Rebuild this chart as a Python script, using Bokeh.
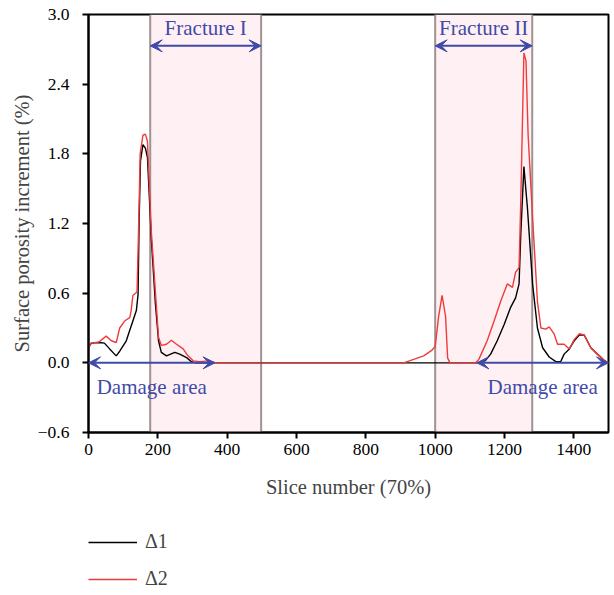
from bokeh.plotting import figure
from bokeh.layouts import column
from bokeh.models import (Range1d, FixedTicker, BoxAnnotation, Span, Arrow, VeeHead,
                          Label, Legend, LegendItem)
from bokeh.embed import file_html
from bokeh.resources import INLINE

# ---------------- data ----------------
x_d1 = [0, 8, 32, 46, 61, 80, 90, 109, 119, 128, 138, 143, 146, 150, 157, 164, 170, 181, 193, 202,
        210, 225, 249, 263, 283, 297, 310, 900, 1000, 1126, 1145, 1160, 1179, 1199, 1218, 1232, 1242,
        1247, 1256, 1266, 1281, 1295, 1310, 1329, 1348, 1362, 1372, 1387, 1401, 1416, 1430, 1449,
        1468, 1488, 1500]
y_d1 = [0.13, 0.17, 0.175, 0.17, 0.12, 0.06, 0.10, 0.19, 0.28, 0.36, 0.45, 0.59, 1.22, 1.74, 1.88,
        1.85, 1.77, 1.08, 0.51, 0.19, 0.09, 0.06, 0.09, 0.075, 0.045, 0.01, 0.0, 0.0, 0.0, 0.0, 0.02,
        0.075, 0.19, 0.33, 0.48, 0.56, 0.68, 1.11, 1.69, 1.34, 0.68, 0.30, 0.13, 0.05, 0.01, 0.01,
        0.075, 0.12, 0.19, 0.24, 0.24, 0.13, 0.075, 0.02, 0.0]

x_d2 = [0, 8, 30, 51, 66, 80, 90, 104, 119, 123, 128, 140, 145, 149, 157, 164, 170, 181, 196, 202,
        210, 225, 239, 254, 273, 287, 302, 321, 345, 369, 909, 938, 967, 991, 1000, 1010, 1020, 1030,
        1036, 1043, 1117, 1126, 1150, 1170, 1189, 1208, 1223, 1232, 1242, 1247, 1256, 1262, 1268,
        1281, 1295, 1305, 1319, 1329, 1343, 1353, 1372, 1387, 1401, 1416, 1430, 1449, 1468, 1488, 1500]
y_d2 = [0.13, 0.17, 0.18, 0.23, 0.19, 0.175, 0.30, 0.36, 0.39, 0.45, 0.58, 0.61, 1.22, 1.80, 1.96,
        1.97, 1.91, 1.14, 0.48, 0.22, 0.15, 0.16, 0.195, 0.16, 0.12, 0.06, 0.017, 0.01, 0.017, 0.0,
        0.0, 0.03, 0.06, 0.11, 0.14, 0.40, 0.58, 0.40, 0.04, 0.0, 0.0, 0.03, 0.19, 0.36, 0.53, 0.68,
        0.65, 0.78, 0.82, 1.40, 2.67, 2.60, 1.97, 1.25, 0.53, 0.30, 0.29, 0.31, 0.25, 0.16, 0.16,
        0.12, 0.20, 0.25, 0.24, 0.13, 0.075, 0.02, 0.0]

series_names = ["Δ1", "Δ2"]
series_colors = ["black", "#ee3b3b"]
fracture_starts = [178, 1000]
fracture_ends = [498, 1280]
fracture_labels = ["Fracture I", "Fracture II"]
fracture_arrow_y = 2.73
fracture_label_y = 2.88
damage_starts = [0, 1120]
damage_ends = [365, 1500]
damage_label = "Damage area"
damage_label_y = -0.21
x_ticks = [0, 200, 400, 600, 800, 1000, 1200, 1400]
y_ticks = [-0.6, 0.0, 0.6, 1.2, 1.8, 2.4, 3.0]
y_tick_labels = ["\u22120.6", "0.0", "0.6", "1.2", "1.8", "2.4", "3.0"]
x_label = "Slice number (70%)"
y_label = "Surface porosity increment (%)"

# ---------------- styling ----------------
FONT = "Liberation Serif"
BLUE = "#3f4aa8"
PINK = "#fff0f3"
GREY = "#9e9292"
MAIN_H = 505

# ---------------- main plot ----------------
p = figure(width=614, height=MAIN_H, output_backend="svg", toolbar_location=None,
           x_range=Range1d(0, 1500), y_range=Range1d(-0.6, 3.0),
           min_border_left=88, min_border_right=6, min_border_top=14,
           min_border_bottom=MAIN_H - 432)
p.grid.visible = False
p.outline_line_color = "black"
p.outline_line_width = 2
p.background_fill_color = "white"
p.border_fill_color = "white"

for ax in (p.xaxis[0], p.yaxis[0]):
    ax.axis_line_width = 2
    ax.major_tick_line_width = 2
    ax.major_tick_out = 6
    ax.major_tick_in = 0
    ax.minor_tick_line_color = None
    ax.major_label_text_font = FONT
    ax.major_label_text_font_size = "17.5px"
    ax.major_label_text_color = "black"
    ax.axis_label_text_font = FONT
    ax.axis_label_text_font_style = "normal"
    ax.axis_label_text_font_size = "20.5px"

p.xaxis[0].ticker = FixedTicker(ticks=x_ticks)
p.xaxis[0].major_label_standoff = 5
p.xaxis[0].axis_label = x_label
p.xaxis[0].axis_label_standoff = 18
p.yaxis[0].ticker = FixedTicker(ticks=y_ticks)
p.yaxis[0].major_label_overrides = {t: l for t, l in zip(y_ticks, y_tick_labels)}
p.yaxis[0].major_label_standoff = 13
p.yaxis[0].axis_label = y_label
p.yaxis[0].axis_label_standoff = 2

# fracture zones
for s, e in zip(fracture_starts, fracture_ends):
    p.add_layout(BoxAnnotation(left=s, right=e, fill_color=PINK, fill_alpha=1.0,
                               line_color=None, level="underlay"))
    for v in (s, e):
        p.add_layout(Span(location=v, dimension="height", line_color=GREY, line_width=2,
                          level="underlay"))

# curves
p.line(x_d1, y_d1, line_color=series_colors[0], line_width=1.4)
p.line(x_d2, y_d2, line_color=series_colors[1], line_width=1.4)

# arrows and labels
def head():
    return VeeHead(size=12, fill_color=BLUE, line_color=BLUE)

for s, e, lab in zip(fracture_starts, fracture_ends, fracture_labels):
    p.add_layout(Arrow(x_start=s, y_start=fracture_arrow_y, x_end=e, y_end=fracture_arrow_y,
                       line_color=BLUE, line_width=2, start=head(), end=head()))
    p.add_layout(Label(x=(s + e) / 2, y=fracture_label_y, text=lab, text_align="center",
                       text_baseline="middle", text_font=FONT, text_font_size="21px",
                       text_color=BLUE))
for s, e in zip(damage_starts, damage_ends):
    p.add_layout(Arrow(x_start=s, y_start=0, x_end=e, y_end=0,
                       line_color=BLUE, line_width=2, start=head(), end=head()))
    p.add_layout(Label(x=(s + e) / 2, y=damage_label_y, text=damage_label, text_align="center",
                       text_baseline="middle", text_font=FONT, text_font_size="21px",
                       text_color=BLUE))

# ---------------- legend strip (same series, drawn out of view; only the key shows) ----------------
LEG_H = 595 - MAIN_H
lg = figure(width=614, height=LEG_H, output_backend="svg", toolbar_location=None,
            x_range=Range1d(0, 1500), y_range=Range1d(10, 11),
            x_axis_location=None, y_axis_location=None, min_border=0)
lg.grid.visible = False
lg.outline_line_color = None
lr = [lg.line(x_d1, y_d1, line_color=series_colors[0], line_width=1.4),
      lg.line(x_d2, y_d2, line_color=series_colors[1], line_width=1.4)]
legend = Legend(items=[LegendItem(label=n, renderers=[r]) for n, r in zip(series_names, lr)],
                location=(0, 5), orientation="vertical",
                glyph_width=49, glyph_height=20, label_height=20, spacing=14,
                label_standoff=8, padding=0, margin=0,
                label_text_font=FONT, label_text_font_size="20px",
                border_line_alpha=0, background_fill_alpha=0)
lg.add_layout(legend, "center")

layout = column(p, lg, spacing=0)
open("out.html", "w").write(file_html(layout, INLINE))
